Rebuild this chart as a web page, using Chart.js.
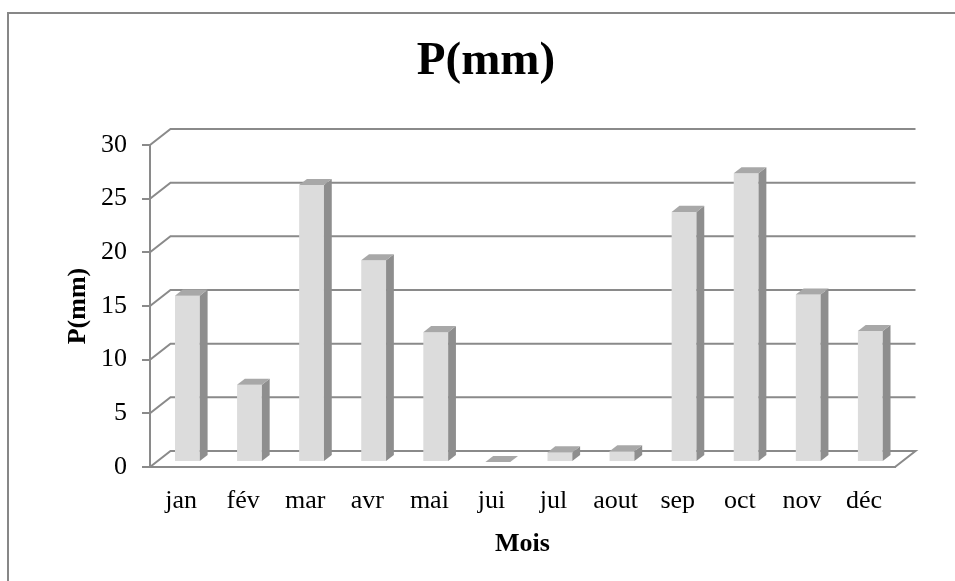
<!DOCTYPE html>
<html>
<head>
<meta charset="utf-8">
<script src="https://cdn.jsdelivr.net/npm/chart.js@4.4.0/dist/chart.umd.min.js"></script>
<style>
  html, body { margin: 0; padding: 0; background: #fff; }
  #c { display: block; }
</style>
</head>
<body>
<canvas id="c" width="955" height="581"></canvas>
<script>
// Monthly precipitation (mm)
const months = ['jan', 'fév', 'mar', 'avr', 'mai', 'jui', 'jul', 'aout', 'sep', 'oct', 'nov', 'déc'];
const precipitation = [15.5, 7.2, 25.8, 18.8, 12.1, 0, 0.9, 1.0, 23.3, 26.9, 15.6, 12.2];
const yMin = 0;
const yMax = 30;
const yStep = 5;

const SERIF = "'Liberation Serif', 'Times New Roman', serif";
const GRID = '#8a8a8a';
// Floor depth vector of the pseudo-3D box (front edge -> back wall)
const DEPTH = { x: 20.5, y: -16 };
// Bars occupy the middle slice of the depth
const BAR_NEAR = 0.31, BAR_FAR = 0.69;
const FACE = { front: '#dcdcdc', side: '#8e8e8e', top: '#a8a8a8' };

// Outer frame (top and left edges)
const framePlugin = {
  id: 'frame',
  beforeDraw(chart) {
    const ctx = chart.ctx;
    ctx.save();
    ctx.fillStyle = '#fff';
    ctx.fillRect(0, 0, chart.width, chart.height);
    ctx.strokeStyle = '#878787';
    ctx.lineWidth = 2;
    ctx.beginPath();
    ctx.moveTo(8, chart.height + 2);
    ctx.lineTo(8, 13);
    ctx.lineTo(chart.width + 2, 13);
    ctx.stroke();
    ctx.restore();
  }
};

// Receding grid lines: diagonal from the axis, then across the back wall
const wallPlugin = {
  id: 'walls',
  beforeDatasetsDraw(chart) {
    const { ctx, chartArea: { left, right }, scales: { y } } = chart;
    ctx.save();
    ctx.strokeStyle = GRID;
    ctx.lineWidth = 2;
    y.ticks.forEach(t => {
      const py = y.getPixelForValue(t.value);
      ctx.beginPath();
      ctx.moveTo(left, py);
      ctx.lineTo(left + DEPTH.x, py + DEPTH.y);
      ctx.lineTo(right + DEPTH.x, py + DEPTH.y);
      if (t.value === y.min) ctx.lineTo(right, py);
      ctx.stroke();
    });
    ctx.restore();
  }
};

// Draws each bar as a box with front, side and top faces
const boxPlugin = {
  id: 'boxes',
  afterDatasetsDraw(chart) {
    const ctx = chart.ctx;
    const meta = chart.getDatasetMeta(0);
    const nx = DEPTH.x * BAR_NEAR, ny = DEPTH.y * BAR_NEAR;
    const dx = DEPTH.x * (BAR_FAR - BAR_NEAR), dy = DEPTH.y * (BAR_FAR - BAR_NEAR);
    const poly = (pts, color) => {
      ctx.beginPath();
      ctx.moveTo(pts[0][0], pts[0][1]);
      for (let i = 1; i < pts.length; i++) ctx.lineTo(pts[i][0], pts[i][1]);
      ctx.closePath();
      ctx.fillStyle = color;
      ctx.fill();
    };
    ctx.save();
    meta.data.forEach(bar => {
      const { x, y, base, width } = bar.getProps(['x', 'y', 'base', 'width'], true);
      const xl = x - width / 2 + nx, xr = x + width / 2 + nx;
      const yt = y + ny, yb = base + ny;
      poly([[xl, yt], [xr, yt], [xr, yb], [xl, yb]], FACE.front);
      poly([[xr, yt], [xr + dx, yt + dy], [xr + dx, yb + dy], [xr, yb]], FACE.side);
      poly([[xl, yt], [xr, yt], [xr + dx, yt + dy], [xl + dx, yt + dy]], FACE.top);
    });
    ctx.restore();
  }
};

new Chart(document.getElementById('c'), {
  type: 'bar',
  data: {
    labels: months,
    datasets: [{
      label: 'P(mm)',
      data: precipitation,
      backgroundColor: 'rgba(0,0,0,0)',
      borderWidth: 0,
      categoryPercentage: 1.0,
      barPercentage: 0.4
    }]
  },
  options: {
    responsive: false,
    animation: false,
    devicePixelRatio: 1,
    layout: { padding: { left: 17, right: 0, top: 0, bottom: 0 } },
    plugins: {
      legend: { display: false },
      tooltip: { enabled: false },
      title: {
        display: true,
        text: 'P(mm)',
        color: '#000',
        font: { family: SERIF, size: 47, weight: 'bold' },
        padding: { top: 34, bottom: 54.6 }
      }
    },
    scales: {
      x: {
        grid: { display: false },
        border: { display: true, color: GRID, width: 2 },
        ticks: {
          color: '#000',
          font: { family: SERIF, size: 26 },
          padding: 11,
          maxRotation: 0,
          autoSkip: false
        },
        title: {
          display: true,
          text: 'Mois',
          color: '#000',
          font: { family: SERIF, size: 26, weight: 'bold' },
          padding: { top: 0, bottom: 21 }
        },
        afterFit(s) { s.height = 114; }
      },
      y: {
        min: yMin,
        max: yMax,
        ticks: {
          stepSize: yStep,
          color: '#000',
          font: { family: SERIF, size: 26 },
          padding: 15
        },
        grid: {
          drawOnChartArea: false,
          drawTicks: true,
          tickLength: 8,
          color: GRID,
          lineWidth: 2
        },
        border: { display: true, color: GRID, width: 2 },
        title: {
          display: true,
          text: 'P(mm)',
          color: '#000',
          font: { family: SERIF, size: 26, weight: 'bold' },
          padding: { top: 45.4, bottom: 0 }
        },
        afterFit(s) { s.width = 133; }
      },
      right: {
        type: 'linear',
        position: 'right',
        display: true,
        grid: { display: false },
        border: { display: false },
        ticks: { display: false },
        afterFit(s) { s.width = 60; }
      }
    }
  },
  plugins: [framePlugin, wallPlugin, boxPlugin]
});
</script>
</body>
</html>
